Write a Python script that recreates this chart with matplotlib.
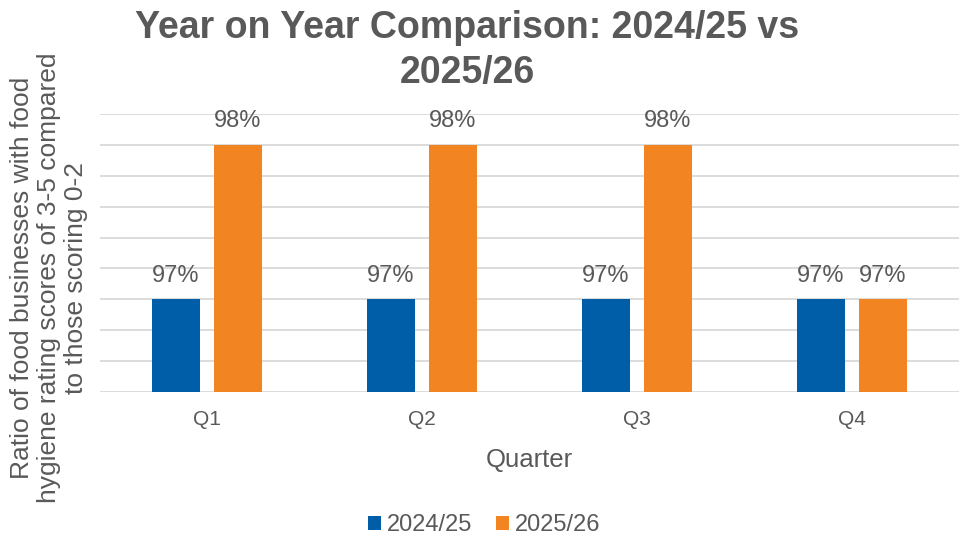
import numpy as np
import matplotlib
matplotlib.use('Agg')
import matplotlib.pyplot as plt

quarters = ['Q1', 'Q2', 'Q3', 'Q4']
series_names = ['2024/25', '2025/26']
ratio_2024 = [0.97, 0.97, 0.97, 0.97]
ratio_2025 = [0.98, 0.98, 0.98, 0.97]

BLUE = '#005EA8'
ORANGE = '#F28522'
TEXT = '#595959'
GRID = '#D9D9D9'

plt.rcParams['font.family'] = ['Liberation Sans', 'DejaVu Sans']

W, H = 959, 538
fig = plt.figure(figsize=(W / 100, H / 100), dpi=100)
ax = fig.add_axes([99.5 / W, (H - 392) / H, 860 / W, (392 - 114) / H])

x = np.arange(len(quarters))
bw = 0.223
off = 0.144
b1 = ax.bar(x - off, ratio_2024, bw, color=BLUE, label=series_names[0], zorder=3)
b2 = ax.bar(x + off, ratio_2025, bw, color=ORANGE, label=series_names[1], zorder=3)

# value labels above each bar
for bars, vals in ((b1, ratio_2024), (b2, ratio_2025)):
  for rect, v in zip(bars, vals):
    ax.annotate('{:.0%}'.format(v), (rect.get_x() + rect.get_width() / 2, v),
                xytext=(0, 9), textcoords='offset points', ha='center', va='bottom',
                fontsize=17, color=TEXT)

ax.set_xlim(-0.5, 3.5)
ax.set_ylim(0.964, 0.982)
ax.set_yticks(np.linspace(0.964, 0.982, 10))
ax.set_yticklabels([])
ax.tick_params(axis='y', length=0)
ax.tick_params(axis='x', length=0, pad=13, labelsize=15, labelcolor=TEXT)
ax.set_xticks(x)
ax.set_xticklabels(quarters)
ax.grid(axis='y', color=GRID, linewidth=1.3, zorder=0)
ax.set_axisbelow(True)
for s in ax.spines.values():
  s.set_visible(False)

ax.set_xlabel('Quarter', fontsize=18.5, color=TEXT, labelpad=14)

fig.text(49 / W, 1 - 278 / H,
         'Ratio of food businesses with food\nhygiene rating scores of 3-5 compared\nto those scoring 0-2',
         rotation=90, ha='center', va='center', fontsize=19, color=TEXT, linespacing=1.15)

fig.text(467 / W, 1 - 50.5 / H, 'Year on Year Comparison: 2024/25 vs\n2025/26',
         ha='center', va='center', fontsize=27, fontweight='bold', color=TEXT,
         linespacing=1.3)

fig.legend(handles=[b1, b2], loc='center', bbox_to_anchor=(484 / W, 1 - 525 / H), ncol=2,
           frameon=False, fontsize=17, labelcolor=TEXT, handlelength=0.55, handleheight=0.55,
           handletextpad=0.25, columnspacing=1.0, borderpad=0)

fig.savefig('out.png', dpi=100)
